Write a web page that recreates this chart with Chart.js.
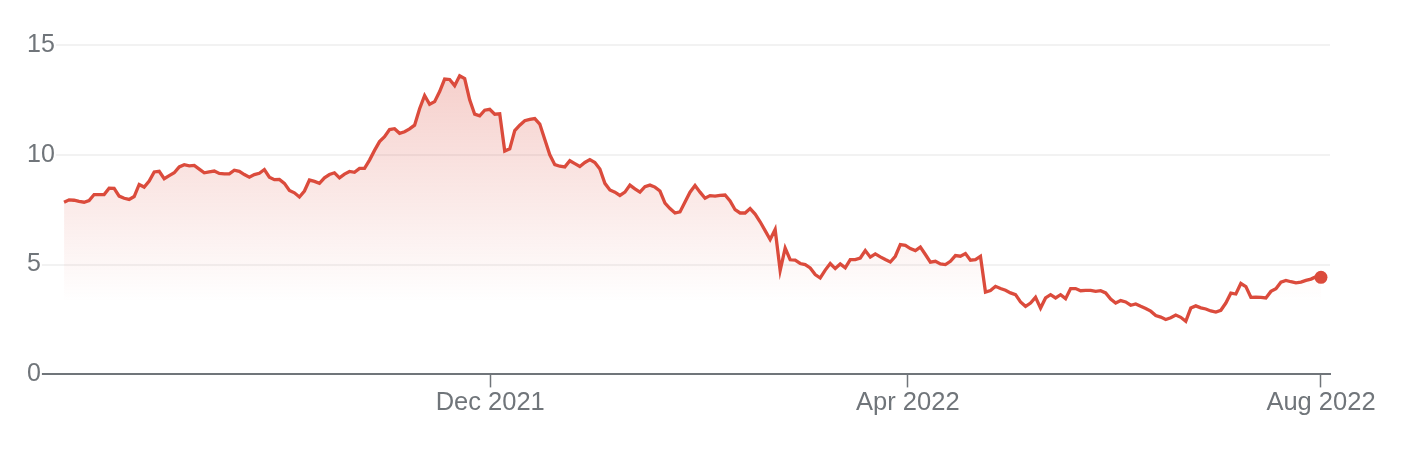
<!DOCTYPE html>
<html>
<head>
<meta charset="utf-8">
<script src="https://cdn.jsdelivr.net/npm/chart.js@4"></script>
<style>
  body { margin: 0; background: #fff; }
  .chart-wrap { width: 1410px; height: 462px; position: relative; }
</style>
</head>
<body>
<div class="chart-wrap">
  <canvas id="priceChart"></canvas>
</div>
<script>
// daily closes, roughly Aug 2021 -> Aug 2022 (one value per trading day)
const prices = [
  7.84, 7.95, 7.93, 7.88, 7.84, 7.92, 8.19, 8.19, 8.19, 8.48,
  8.47, 8.12, 8.02, 7.97, 8.10, 8.65, 8.53, 8.80, 9.22, 9.25,
  8.91, 9.05, 9.18, 9.45, 9.55, 9.50, 9.52, 9.35, 9.18, 9.22,
  9.26, 9.15, 9.13, 9.13, 9.30, 9.25, 9.10, 8.98, 9.10, 9.16,
  9.33, 8.98, 8.87, 8.88, 8.70, 8.38, 8.27, 8.08, 8.35, 8.85,
  8.79, 8.70, 8.95, 9.10, 9.18, 8.95, 9.12, 9.24, 9.20, 9.38,
  9.38, 9.76, 10.20, 10.60, 10.82, 11.15, 11.19, 10.98, 11.05, 11.18,
  11.35, 12.10, 12.70, 12.30, 12.42, 12.88, 13.45, 13.43, 13.15, 13.60,
  13.47, 12.50, 11.85, 11.77, 12.03, 12.07, 11.85, 11.87, 10.17, 10.27,
  11.10, 11.35, 11.55, 11.61, 11.65, 11.40, 10.70, 10.00, 9.55, 9.48,
  9.45, 9.73, 9.60, 9.47, 9.65, 9.78, 9.65, 9.35, 8.70, 8.40,
  8.30, 8.15, 8.30, 8.62, 8.45, 8.30, 8.55, 8.62, 8.53, 8.35,
  7.80, 7.55, 7.35, 7.40, 7.85, 8.30, 8.60, 8.30, 8.02, 8.14,
  8.12, 8.15, 8.17, 7.90, 7.50, 7.35, 7.35, 7.55, 7.30, 6.95,
  6.55, 6.14, 6.60, 4.73, 5.75, 5.22, 5.20, 5.05, 5.00, 4.85,
  4.55, 4.39, 4.75, 5.05, 4.82, 5.03, 4.85, 5.23, 5.23, 5.30,
  5.64, 5.34, 5.49, 5.35, 5.23, 5.12, 5.38, 5.91, 5.88, 5.73,
  5.64, 5.80, 5.46, 5.11, 5.15, 5.03, 5.00, 5.15, 5.41, 5.38,
  5.50, 5.20, 5.23, 5.38, 3.75, 3.82, 4.01, 3.91, 3.83, 3.71,
  3.63, 3.30, 3.10, 3.25, 3.51, 3.02, 3.48, 3.63, 3.48, 3.63,
  3.45, 3.91, 3.91, 3.81, 3.83, 3.83, 3.78, 3.81, 3.71, 3.43,
  3.25, 3.36, 3.30, 3.15, 3.21, 3.10, 3.00, 2.88, 2.68, 2.61,
  2.50, 2.58, 2.70, 2.60, 2.42, 3.02, 3.12, 3.03, 2.98, 2.89,
  2.84, 2.92, 3.25, 3.70, 3.66, 4.14, 4.00, 3.51, 3.52, 3.51,
  3.48, 3.78, 3.90, 4.20, 4.28, 4.22, 4.17, 4.20, 4.28, 4.34,
  4.45, 4.42
];

// where the month labels fall, in trading-day index
const tickIndex = [85.1, 168.5, 251];
const tickLabels = ['Dec 2021', 'Apr 2022', 'Aug 2022'];

const yTicks = [0, 5, 10, 15];

const lineColor = '#db4b3c';
const textColor = '#70757a';

const points = prices.map((p, i) => ({ x: i, y: p }));
const lastIdx = prices.length - 1;

const ctx = document.getElementById('priceChart').getContext('2d');

new Chart(ctx, {
  type: 'line',
  data: {
    datasets: [{
      data: points,
      borderColor: lineColor,
      borderWidth: 3.3,
      tension: 0,
      fill: 'origin',
      backgroundColor: function(context) {
        const chart = context.chart;
        const { chartArea, scales } = chart;
        if (!chartArea) return null;
        const top = scales.y.getPixelForValue(15);
        const bottom = scales.y.getPixelForValue(3.3);
        const g = chart.ctx.createLinearGradient(0, top, 0, bottom);
        g.addColorStop(0, 'rgba(219,75,60,0.30)');
        g.addColorStop(1, 'rgba(219,75,60,0)');
        return g;
      },
      pointRadius: c => c.dataIndex === lastIdx ? 6.5 : 0,
      pointBackgroundColor: lineColor,
      pointBorderWidth: 0,
      pointHoverRadius: 0
    }]
  },
  options: {
    responsive: true,
    maintainAspectRatio: false,
    animation: false,
    layout: { padding: { left: 27, right: 80, top: 45, bottom: 44 } },
    plugins: {
      legend: { display: false },
      tooltip: { enabled: false }
    },
    scales: {
      x: {
        type: 'linear',
        min: -7.4,
        max: 252.8,
        afterBuildTicks: axis => {
          axis.ticks = tickIndex.map(v => ({ value: v }));
        },
        grid: {
          drawOnChartArea: false,
          drawTicks: true,
          tickLength: 13,
          tickColor: textColor,
          tickWidth: 1.5
        },
        border: { display: true, color: textColor, width: 2 },
        ticks: {
          autoSkip: false,
          maxRotation: 0,
          padding: 0,
          color: textColor,
          font: { family: "'Liberation Sans', Arial, sans-serif", size: 25.5 },
          callback: (v, i) => tickLabels[i]
        }
      },
      y: {
        min: 0,
        max: 15,
        afterBuildTicks: axis => {
          axis.ticks = yTicks.map(v => ({ value: v }));
        },
        grid: {
          drawTicks: false,
          color: c => c.tick && c.tick.value === 0 ? 'rgba(0,0,0,0)' : '#f2f2f2',
          lineWidth: 2
        },
        border: { display: false },
        ticks: {
          mirror: true,
          padding: 0,
          z: 1,
          color: textColor,
          showLabelBackdrop: true,
          backdropColor: '#ffffff',
          backdropPadding: 1,
          font: { family: "'Liberation Sans', Arial, sans-serif", size: 25 }
        }
      }
    }
  }
});
</script>
</body>
</html>
